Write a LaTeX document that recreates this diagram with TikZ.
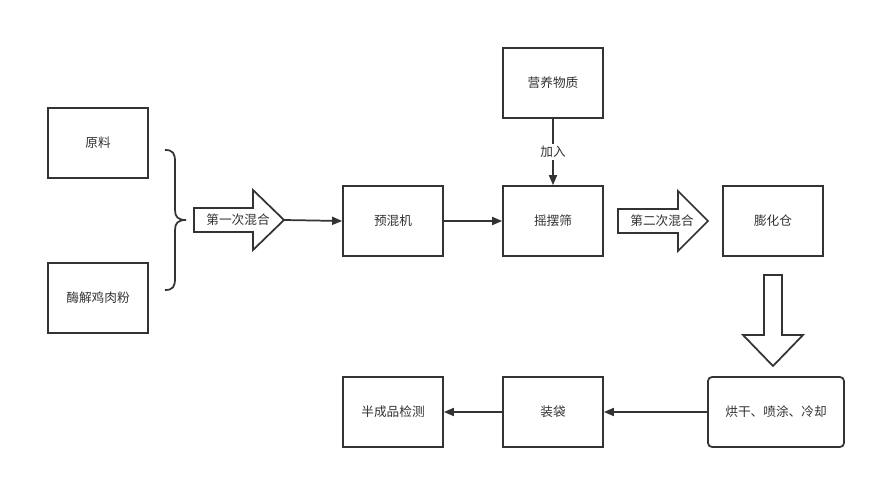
\documentclass[tikz,border=0pt]{standalone}
\usepackage{fontspec}
\setmainfont{Noto Sans CJK SC}
\usetikzlibrary{arrows.meta}
\definecolor{ink}{HTML}{333333}
\begin{document}
\begin{tikzpicture}[x=0.75pt,y=-0.75pt,
  box/.style={draw=ink,line width=1.3pt,minimum width=75pt,minimum height=52.5pt,inner sep=0pt,text=ink,font=\fontsize{9.5}{11}\selectfont},
  rbox/.style={box,rounded corners=3pt,minimum width=102pt},
  lbl/.style={text=ink,font=\fontsize{9.5}{11}\selectfont,inner sep=1pt},
  conn/.style={draw=ink,line width=1.3pt,-{Triangle[length=7.5pt,width=6pt]}},
  fat/.style={draw=ink,line width=1.3pt,fill=white,line join=miter}]
\path[use as bounding box,fill=white] (0,0) rectangle (876,478);
% boxes
\node[box] (raw) at (98,143) {原料};
\node[box] (enz) at (98,298) {酶解鸡肉粉};
\node[box] (pre) at (393,221) {预混机};
\node[box] (sie) at (553,221) {摇摆筛};
\node[box] (nut) at (553,83) {营养物质};
\node[box] (puf) at (773,221) {膨化仓};
\node[rbox] (dry) at (776,412) {烘干、喷涂、冷却};
\node[box] (bag) at (553,412) {装袋};
\node[box] (chk) at (393,412) {半成品检测};
% brace
\draw[ink,line width=1.3pt] (165,150) .. controls (173,150) and (175,153) .. (175,162) -- (175,210) .. controls (175,217) and (178,220) .. (186,220) .. controls (178,220) and (175,223) .. (175,230) -- (175,278) .. controls (175,287) and (173,290) .. (165,290);
% fat arrow 1
\draw[fat] (194,208) -- (253,208) -- (253,190) -- (284,220) -- (253,250) -- (253,232) -- (194,232) -- cycle;
\node[lbl] (m1) at (238,220) {第一次混合};
\coordinate (t1) at (284,220);
% fat arrow 2
\draw[fat] (618,209) -- (678,209) -- (678,191) -- (708,221) -- (678,251) -- (678,233) -- (618,233) -- cycle;
\node[lbl] (m2) at (662,221) {第二次混合};
% down fat arrow
\draw[fat] (764,275) -- (782,275) -- (782,335) -- (803,335) -- (773,366) -- (743,335) -- (764,335) -- cycle;
% connectors
\draw[conn] (t1) -- (pre.west);
\draw[conn] (pre.east) -- (sie.west);
\draw[conn] (nut.south) -- node[lbl,fill=white,inner sep=2pt] (add) {加入} (sie.north);
\draw[conn] (dry.west) -- (bag.east);
\draw[conn] (bag.west) -- (chk.east);
\end{tikzpicture}
\end{document}
